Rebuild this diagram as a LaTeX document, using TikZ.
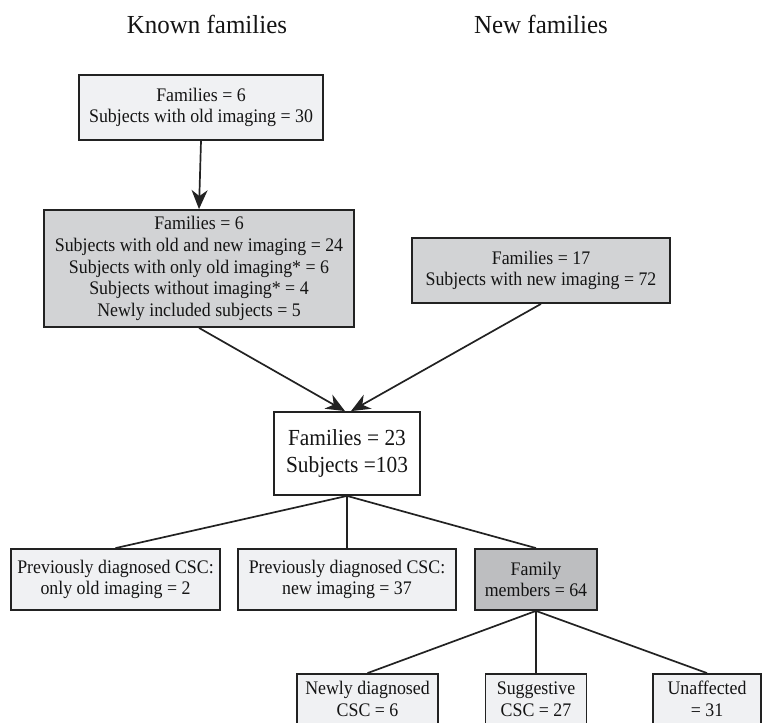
\documentclass[tikz,border=0pt]{standalone}
\usepackage{fontspec}
\setmainfont[FakeStretch=0.93]{Liberation Serif}
\newfontfamily\titlefont[FakeStretch=0.96]{Liberation Serif}
\usetikzlibrary{arrows.meta}
\definecolor{lightfill}{HTML}{F0F1F3}
\definecolor{midfill}{HTML}{D2D3D5}
\definecolor{darkfill}{HTML}{BDBEC0}
\definecolor{edgecol}{HTML}{222222}
\definecolor{textcol}{HTML}{141414}
\begin{document}
\begin{tikzpicture}[x=1pt,y=-1pt,
  box/.style={draw=edgecol, line width=1.8pt, align=center, inner sep=0pt,
    text=textcol, font=\fontsize{19.2}{21.6}\selectfont},
  title/.style={text=textcol, font=\titlefont\fontsize{26}{30}\selectfont, inner sep=0pt},
  arr/.style={draw=edgecol, line width=1.7pt, -{Stealth[length=19pt,width=16pt,inset=6pt]}},
  con/.style={draw=edgecol, line width=1.7pt}]
\useasboundingbox (0,0) rectangle (762,722);
\clip (0,0) rectangle (762,722);

\node[title] (tk) at (207,24) {Known families};
\node[title] (tn) at (541,24) {New families};

\node[box, fill=lightfill, minimum width=244pt, minimum height=65pt] (b1) at (201,107.5)
  {Families = 6\\Subjects with old imaging = 30};
\node[box, fill=midfill, minimum width=310pt, minimum height=117pt] (b2) at (199,268.5)
  {Families = 6\\Subjects with old and new imaging = 24\\Subjects with only old imaging* = 6\\Subjects without imaging* = 4\\Newly included subjects = 5};
\node[box, fill=midfill, minimum width=258pt, minimum height=65pt] (b17) at (541,270.5)
  {Families = 17\\Subjects with new imaging = 72};
\node[box, fill=white, minimum width=146pt, minimum height=83pt,
  font=\fontsize{23}{27}\selectfont] (b3) at (347,453.5)
  {Families = 23\\Subjects =103};

\node[box, fill=lightfill, minimum width=209pt, minimum height=61pt] (ra) at (115.5,579.5)
  {Previously diagnosed CSC:\\only old imaging = 2};
\node[box, fill=lightfill, minimum width=218pt, minimum height=61pt] (rb) at (347,579.5)
  {Previously diagnosed CSC:\\new imaging = 37};
\node[box, fill=darkfill, minimum width=122pt, minimum height=61pt] (rc) at (536,579.5)
  {Family\\members = 64};

\node[box, fill=lightfill, minimum width=141pt, minimum height=50pt] (na) at (367.5,699)
  {Newly diagnosed\\CSC = 6};
\node[box, fill=lightfill, minimum width=101pt, minimum height=50pt] (nb) at (536,699)
  {Suggestive\\CSC = 27};
\node[box, fill=lightfill, minimum width=108pt, minimum height=50pt] (nc) at (707,699)
  {Unaffected\\= 31};

\draw[arr] (b1.south) -- (b2.north);
\draw[arr] (b2.south) -- ([xshift=-2pt]b3.north);
\draw[arr] (b17.south) -- ([xshift=4pt]b3.north);
\draw[con] (b3.south) -- (ra.north);
\draw[con] (b3.south) -- (rb.north);
\draw[con] (b3.south) -- (rc.north);
\draw[con] (rc.south) -- (na.north);
\draw[con] (rc.south) -- (nb.north);
\draw[con] (rc.south) -- (nc.north);
\end{tikzpicture}
\end{document}
